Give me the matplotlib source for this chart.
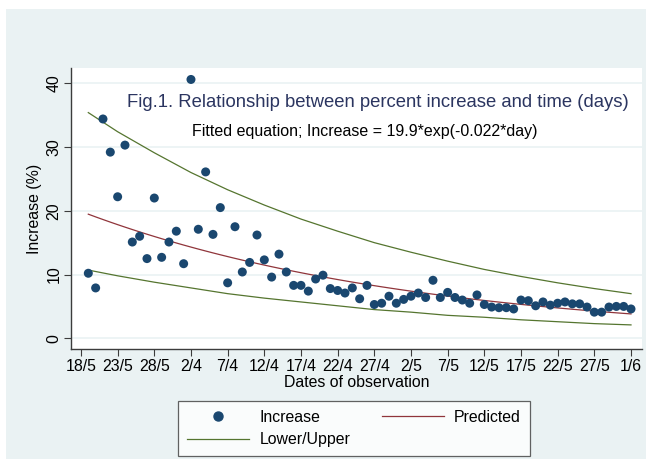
import numpy as np
import matplotlib.pyplot as plt
from matplotlib.lines import Line2D
from matplotlib.patches import Rectangle

plt.rcParams["font.family"] = ["Liberation Sans", "DejaVu Sans"]

# observed daily percent increase (day 1..75)
days = list(range(1, 76))
increase = [
    10.2, 7.9, 34.4, 29.2, 22.2, 30.3, 15.1, 16.0, 12.5, 22.0,
    12.7, 15.1, 16.8, 11.7, 40.6, 17.1, 26.1, 16.3, 20.5, 8.7,
    17.5, 10.4, 11.9, 16.2, 12.3, 9.6, 13.2, 10.4, 8.3, 8.3,
    7.4, 9.3, 9.9, 7.8, 7.5, 7.1, 7.9, 6.2, 8.3, 5.3,
    5.5, 6.6, 5.5, 6.1, 6.6, 7.1, 6.4, 9.1, 6.4, 7.2,
    6.4, 6.0, 5.5, 6.8, 5.3, 4.9, 4.8, 4.8, 4.6, 6.0,
    5.9, 5.1, 5.7, 5.2, 5.5, 5.7, 5.4, 5.4, 4.9, 4.1,
    4.1, 4.9, 5.0, 5.0, 4.6,
]

# fitted model: Increase = a*exp(b*day)
fit_a = 19.9
fit_b = -0.022

# lower / upper band
band_days = [1, 5, 10, 15, 20, 25, 30, 35, 40, 45, 50, 55, 60, 65, 70, 75]
upper = [35.4, 32.4, 29.1, 26.0, 23.3, 20.9, 18.7, 16.8, 15.0, 13.5, 12.1, 10.8, 9.7, 8.7, 7.8, 7.0]
lower = [10.7, 9.8, 8.8, 7.9, 7.0, 6.3, 5.7, 5.1, 4.5, 4.1, 3.6, 3.3, 2.9, 2.6, 2.3, 2.1]

tick_days = list(range(0, 76, 5))
tick_labels = ["18/5", "23/5", "28/5", "2/4", "7/4", "12/4", "17/4", "22/4",
               "27/4", "2/5", "7/5", "12/5", "17/5", "22/5", "27/5", "1/6"]
y_ticks = [0, 10, 20, 30, 40]

navy = "#1a476f"
maroon = "#90353b"
green = "#55752f"
bg = "#eaf2f3"
axcol = "#3c3c3c"

fig = plt.figure(figsize=(6.46, 4.59), dpi=100)
fig.patch.set_facecolor("white")
fig.patches.append(Rectangle((6 / 646, 0), 1, 1 - 9 / 459, transform=fig.transFigure,
                             facecolor=bg, edgecolor="none", zorder=-10))

W, H = 646, 459
left, right, top, bottom = 71, 641.7, 68.3, 349
ax = fig.add_axes([left / W, 1 - bottom / H, (right - left) / W, (bottom - top) / H])
ax.set_facecolor("white")

pred_x = np.array(days)
pred_y = fit_a * np.exp(fit_b * pred_x)

ax.plot(band_days, upper, color=green, lw=0.9, zorder=3)
ax.plot(band_days, lower, color=green, lw=0.9, zorder=3)
ax.plot(pred_x, pred_y, color=maroon, lw=0.9, zorder=3)
ax.scatter(days, increase, s=42, color=navy, edgecolors="none", zorder=4)

ax.set_xlim(-1.36, 76.46)
ax.set_ylim(-1.68, 42.35)
ax.set_xticks(tick_days)
ax.set_xticklabels(tick_labels)
ax.set_yticks(y_ticks)
ax.set_yticklabels([str(v) for v in y_ticks], rotation=90, va="center")
ax.grid(axis="y", color=bg, lw=1.2)
ax.set_axisbelow(True)

for side in ["top", "right"]:
    ax.spines[side].set_visible(False)
for side in ["left", "bottom"]:
    ax.spines[side].set_color(axcol)
    ax.spines[side].set_linewidth(1.0)
ax.tick_params(colors=axcol, labelcolor="black", labelsize=11.4, length=5, width=0.8, pad=2)

ax.set_xlabel("Dates of observation", fontsize=11.4, labelpad=1)
ax.set_ylabel("Increase (%)", fontsize=11.4, labelpad=3)

ax.text(0.537, 0.878, "Fig.1. Relationship between percent increase and time (days)",
        transform=ax.transAxes, ha="center", va="center", fontsize=13.3, color="#2b3560")
ax.text(0.515, 0.774, "Fitted equation; Increase = 19.9*exp(-0.022*day)",
        transform=ax.transAxes, ha="center", va="center", fontsize=11.5, color="black")

handles = [
    Line2D([], [], marker="o", ls="none", color=navy, markersize=6.5, label="Increase"),
    Line2D([], [], color=green, lw=0.9, label="Lower/Upper"),
    Line2D([], [], color=maroon, lw=0.9, label="Predicted"),
]
leg = fig.legend(handles=handles, ncol=2, loc="center", bbox_to_anchor=(354 / W, 1 - 428.5 / H),
                 fontsize=11.4, frameon=True, fancybox=False, handlelength=3.9,
                 handletextpad=0.65, columnspacing=2.0, labelspacing=0.5, borderpad=0.57)
leg.get_frame().set_edgecolor(axcol)
leg.get_frame().set_linewidth(0.9)

fig.savefig("out.png", dpi=100)
